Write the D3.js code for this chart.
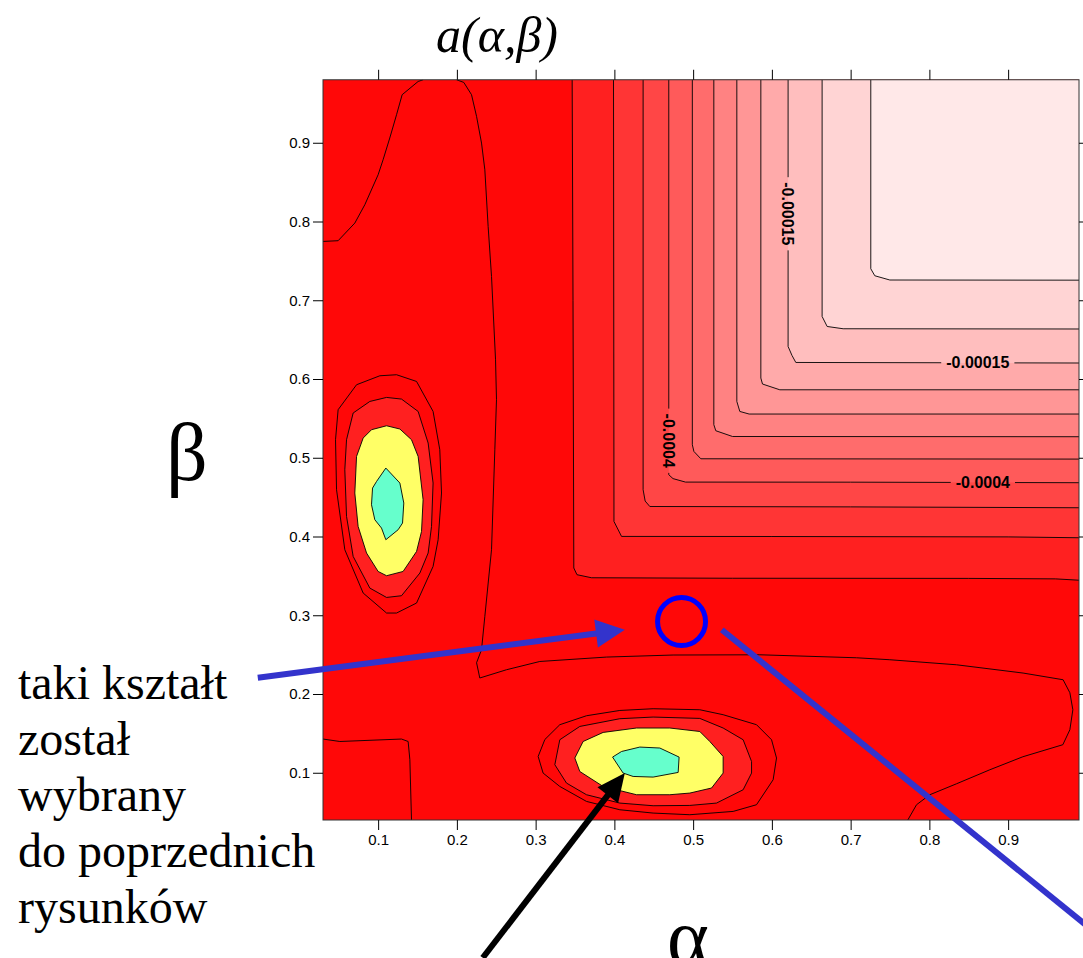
<!DOCTYPE html>
<html>
<head>
<meta charset="utf-8">
<script src="https://cdn.jsdelivr.net/npm/d3@7"></script>
<style>
  body { margin: 0; background: #fff; }
  svg { display: block; }
</style>
</head>
<body>
<svg id="chart" width="1083" height="958"></svg>
<script>
// ---- data: a(alpha, beta) contour map ----
const alphaDomain = [0.03, 0.99];
const betaDomain = [0.04, 0.98];
const tickValues = [0.1, 0.2, 0.3, 0.4, 0.5, 0.6, 0.7, 0.8, 0.9];
const tickLabels = ["0.1", "0.2", "0.3", "0.4", "0.5", "0.6", "0.7", "0.8", "0.9"];

// fill colour of each band, from the deepest value up to the upper-right plateau
const bandColors = ["#ff0808", "#ff2020", "#ff3535", "#ff4646", "#ff5a5a", "#ff6c6c",
                    "#ff8282", "#ff9696", "#ffaaaa", "#ffbebe", "#ffd4d4", "#ffe8e8"];

// L-shaped iso-lines: each runs from the top edge down to a corner and on to the right edge
const lContours = [
  [[0.3464,0.98],[0.3475,0.70],[0.3485,0.360],[0.3525,0.3515],[0.371,0.3476],[0.55,0.3470],[0.85,0.3468],[0.96,0.3462],[0.99,0.3445]],
  [[0.3989,0.98],[0.3995,0.4191],[0.4091,0.4001],[0.60,0.4000],[0.90,0.3995],[0.99,0.3984]],
  [[0.4365,0.98],[0.4365,0.4594],[0.4391,0.445],[0.445,0.4381],[0.70,0.4376],[0.99,0.4365]],
  [[0.4691,0.98],[0.4691,0.4784],[0.4745,0.4735],[0.4903,0.4691],[0.70,0.4690],[0.99,0.4683]],
  [[0.4990,0.98],[0.4990,0.5165],[0.5010,0.508],[0.5098,0.4987],[0.99,0.4983]],
  [[0.5263,0.98],[0.5263,0.5420],[0.5288,0.5343],[0.5500,0.5270],[0.99,0.5267]],
  [[0.5555,0.98],[0.5555,0.5715],[0.5593,0.5588],[0.5711,0.5555],[0.99,0.5555]],
  [[0.5860,0.98],[0.5860,0.6012],[0.5881,0.5936],[0.6101,0.5863],[0.99,0.5863]],
  [[0.6206,0.98],[0.6206,0.6413],[0.6255,0.6300],[0.6304,0.6210],[0.99,0.6203]],
  [[0.6638,0.98],[0.6638,0.6794],[0.6702,0.6667],[0.6905,0.6638],[0.99,0.6635]],
  [[0.7256,0.98],[0.7256,0.7400],[0.7307,0.7311],[0.7498,0.7257],[0.99,0.7255]]
];

// open iso-lines of the deep trough (same fill on both sides)
const troughContour = [
  [0.1996,0.98],[0.2088,0.9766],[0.2186,0.961],[0.225,0.9334],[0.2313,0.8996],[0.2355,0.8657],
  [0.2397,0.7937],[0.244,0.7302],[0.2491,0.6244],[0.2503,0.5737],[0.2482,0.5102],[0.244,0.3832],
  [0.2355,0.2985],[0.2313,0.2562],[0.225,0.2397],[0.2291,0.2203],[0.263,0.2308],[0.3053,0.2413],
  [0.39,0.2469],[0.4746,0.2495],[0.5847,0.2498],[0.7075,0.2460],[0.7498,0.2435],[0.8345,0.2371],
  [0.919,0.2266],[0.9698,0.2181],[0.9784,0.2016],[0.9822,0.18],[0.9784,0.1546],[0.9695,0.1356],
  [0.9187,0.1203],[0.8768,0.1038],[0.8345,0.086],[0.8006,0.0721],[0.7837,0.0594],[0.7726,0.04]
];
const topLeftContour = [
  [0.03,0.7747],[0.0492,0.7756],[0.0704,0.798],[0.0831,0.8213],[0.1,0.8594],[0.1063,0.8784],
  [0.1148,0.906],[0.1234,0.9356],[0.1305,0.961],[0.1508,0.9778],[0.1571,0.98]
];
const bottomLeftContour = [
  [0.03,0.1428],[0.0514,0.1397],[0.1297,0.1428],[0.1381,0.1397],[0.1403,0.1165],[0.1424,0.04]
];

// closed rings of the two minima, outermost first
const leftBasin = [
  [[0.1234,0.6054],[0.1488,0.5969],[0.1698,0.5588],[0.1783,0.5102],[0.1805,0.4552],[0.1762,0.3959],
   [0.1698,0.362],[0.1488,0.3155],[0.1234,0.3028],[0.1107,0.3028],[0.081,0.3282],[0.0577,0.3832],
   [0.0472,0.4594],[0.0459,0.5229],[0.0492,0.561],[0.0726,0.5927],[0.1022,0.6041]],
  [[0.1107,0.5766],[0.1297,0.5745],[0.1508,0.5588],[0.1635,0.5187],[0.1698,0.4679],[0.1678,0.4128],
   [0.1635,0.379],[0.153,0.3536],[0.1297,0.3248],[0.1107,0.3226],[0.0895,0.3345],[0.0683,0.3747],
   [0.0599,0.4255],[0.0577,0.4848],[0.0599,0.5229],[0.0683,0.5568],[0.0895,0.5715]],
  [[0.1107,0.5406],[0.1276,0.5365],[0.1424,0.5229],[0.1508,0.5017],[0.1571,0.4467],[0.1551,0.4064],
   [0.1488,0.381],[0.1317,0.3556],[0.1107,0.3502],[0.1,0.3556],[0.0853,0.379],[0.0746,0.4128],
   [0.0704,0.4552],[0.0726,0.5017],[0.081,0.525],[0.0916,0.5356]],
  [[0.1098,0.4869],[0.1276,0.4679],[0.1326,0.4425],[0.131,0.4171],[0.1254,0.4086],[0.1098,0.3959],
   [0.1043,0.4107],[0.0958,0.4213],[0.0916,0.4403],[0.0929,0.4615],[0.098,0.4699]]
];
const bottomBasin = [
  [[0.3032,0.1207],[0.3117,0.1422],[0.3307,0.161],[0.3646,0.1724],[0.4069,0.1791],[0.4492,0.1813],
   [0.5085,0.18],[0.5381,0.1737],[0.5805,0.161],[0.5996,0.1419],[0.6059,0.1187],[0.6016,0.0911],
   [0.5805,0.0594],[0.5508,0.0509],[0.4958,0.0467],[0.4492,0.0488],[0.4069,0.053],[0.3646,0.0636],
   [0.3307,0.0826],[0.3095,0.0996]],
  [[0.3244,0.1102],[0.3307,0.1419],[0.3561,0.1588],[0.4069,0.1686],[0.4492,0.1707],[0.5085,0.169],
   [0.5381,0.1568],[0.5635,0.1419],[0.5742,0.1143],[0.5742,0.0996],[0.5635,0.0784],[0.5297,0.0615],
   [0.4958,0.0585],[0.4492,0.0581],[0.4069,0.0615],[0.3646,0.0721],[0.3392,0.0869]],
  [[0.3498,0.1187],[0.3603,0.1397],[0.3857,0.1512],[0.4281,0.1568],[0.4704,0.1568],[0.5085,0.1524],
   [0.5212,0.1397],[0.5381,0.1207],[0.5381,0.0996],[0.5234,0.0806],[0.4958,0.0742],[0.4704,0.0721],
   [0.4281,0.0721],[0.3857,0.0826],[0.3561,0.1016]],
  [[0.3977,0.1199],[0.4091,0.127],[0.4323,0.1326],[0.4577,0.1314],[0.4822,0.1199],[0.481,0.1004],
   [0.4492,0.0945],[0.4238,0.0953],[0.4111,0.0996]]
];
const basinColors = ["#ff0808", "#ff2020", "#ffff66", "#66ffcc"];

// contour value labels placed on their iso-lines
const contourLabels = [
  { text: "-0.00015", at: [0.6206, 0.8098], vertical: true },
  { text: "-0.00015", at: [0.8615, 0.6210], vertical: false },
  { text: "-0.0004",  at: [0.4691, 0.5216], vertical: true },
  { text: "-0.0004",  at: [0.8679, 0.4691], vertical: false }
];

// annotation marks, in (alpha, beta) coordinates
const chosenPoint = [0.4853, 0.2921];
const pointerArrow = { from: [-0.0528, 0.2206], to: [0.4133, 0.2816] };
const chosenLeader = { from: [0.5364, 0.2816], to: [1.0166, -0.1077] };
const minimumArrow = { from: [0.2329, -0.1349], to: [0.4133, 0.0996] };
const noteLines = ["taki kształt", "został", "wybrany", "do poprzednich", "rysunków"];

// ---- drawing ----
const svg = d3.select("#chart");
const plotLeft = 323, plotRight = 1079, plotBottom = 820;
const plotTop = plotBottom - (betaDomain[1] - betaDomain[0]) / (alphaDomain[1] - alphaDomain[0]) * (plotRight - plotLeft);

const x = d3.scaleLinear().domain(alphaDomain).range([plotLeft, plotRight]);
const y = d3.scaleLinear().domain(betaDomain).range([plotBottom, plotTop]);

const openLine = d3.line().x(d => x(d[0])).y(d => y(d[1]));
const closedLine = d3.line().x(d => x(d[0])).y(d => y(d[1])).curve(d3.curveLinearClosed);

const defs = svg.append("defs");
defs.append("clipPath").attr("id", "plotClip")
  .append("rect").attr("x", plotLeft).attr("y", plotTop)
  .attr("width", plotRight - plotLeft).attr("height", plotBottom - plotTop);

const plot = svg.append("g").attr("clip-path", "url(#plotClip)");

// base band
plot.append("rect")
  .attr("x", plotLeft).attr("y", plotTop)
  .attr("width", plotRight - plotLeft).attr("height", plotBottom - plotTop)
  .attr("fill", bandColors[0]);

// nested upper-right bands, closed through the top-right corner
lContours.forEach((c, i) => {
  plot.append("path")
    .attr("d", closedLine(c.concat([[alphaDomain[1], betaDomain[1]]])))
    .attr("fill", bandColors[i + 1]);
});

// basins
[leftBasin, bottomBasin].forEach(basin => {
  basin.forEach((ring, i) => {
    plot.append("path").attr("d", closedLine(ring)).attr("fill", basinColors[i]);
  });
});

// contour labels first measured, so the lines can be broken around them
const labelGroup = svg.append("g")
  .attr("font-family", "'Liberation Sans', Arial, sans-serif")
  .attr("font-size", 16)
  .attr("font-weight", "bold")
  .attr("fill", "#000");

const gapMask = defs.append("mask").attr("id", "labelGaps").attr("maskUnits", "userSpaceOnUse")
  .attr("x", 0).attr("y", 0).attr("width", 1083).attr("height", 958);
gapMask.append("rect").attr("x", 0).attr("y", 0).attr("width", 1083).attr("height", 958).attr("fill", "#fff");

contourLabels.forEach(lab => {
  const cx = x(lab.at[0]), cy = y(lab.at[1]);
  const t = labelGroup.append("text")
    .attr("x", 0).attr("y", 0)
    .attr("text-anchor", "middle")
    .attr("dy", "0.36em")
    .attr("transform", `translate(${cx},${cy})` + (lab.vertical ? " rotate(90)" : ""))
    .text(lab.text);
  const w = t.node().getComputedTextLength() + 10;
  const h = 14;
  const gw = lab.vertical ? h : w, gh = lab.vertical ? w : h;
  gapMask.append("rect")
    .attr("x", cx - gw / 2).attr("y", cy - gh / 2)
    .attr("width", gw).attr("height", gh).attr("fill", "#000");
});

// iso-lines
const lines = plot.append("g")
  .attr("mask", "url(#labelGaps)")
  .attr("fill", "none").attr("stroke", "#000").attr("stroke-width", 0.9)
  .attr("stroke-linejoin", "round");
lContours.forEach(c => lines.append("path").attr("d", openLine(c)));
[troughContour, topLeftContour, bottomLeftContour].forEach(c => lines.append("path").attr("d", openLine(c)));
[leftBasin, bottomBasin].forEach(basin => basin.forEach(ring => lines.append("path").attr("d", closedLine(ring))));

labelGroup.raise();

// frame
svg.append("rect")
  .attr("x", plotLeft).attr("y", plotTop)
  .attr("width", plotRight - plotLeft).attr("height", plotBottom - plotTop)
  .attr("fill", "none").attr("stroke", "#333").attr("stroke-width", 1);

// axes: labelled on the left and bottom, bare ticks on top and right
const fmt = (d, i) => tickLabels[i];
const axisFont = g => g.attr("font-family", "'Liberation Sans', Arial, sans-serif").attr("font-size", 15);

svg.append("g").attr("transform", `translate(0,${plotBottom})`)
  .call(d3.axisBottom(x).tickValues(tickValues).tickFormat(fmt).tickSize(10).tickPadding(4))
  .call(axisFont).call(g => g.select(".domain").remove());
svg.append("g").attr("transform", `translate(${plotLeft},0)`)
  .call(d3.axisLeft(y).tickValues(tickValues).tickFormat(fmt).tickSize(10).tickPadding(3))
  .call(axisFont).call(g => g.select(".domain").remove());
svg.append("g").attr("transform", `translate(0,${plotTop})`)
  .call(d3.axisTop(x).tickValues(tickValues).tickFormat("").tickSize(10))
  .call(g => g.select(".domain").remove());
svg.append("g").attr("transform", `translate(${plotRight},0)`)
  .call(d3.axisRight(y).tickValues(tickValues).tickFormat("").tickSize(10))
  .call(g => g.select(".domain").remove());

// titles
svg.append("text")
  .attr("x", 497).attr("y", 52)
  .attr("text-anchor", "middle")
  .attr("font-family", "'Liberation Serif', 'Times New Roman', serif")
  .attr("font-style", "italic")
  .attr("font-size", 50)
  .text("a(α,β)");
svg.append("text")
  .attr("x", 166).attr("y", 480)
  .attr("font-family", "'Liberation Serif', 'Times New Roman', serif")
  .attr("font-size", 82)
  .text("β");
svg.append("text")
  .attr("x", 688).attr("y", 964)
  .attr("text-anchor", "middle")
  .attr("font-family", "'Liberation Serif', 'Times New Roman', serif")
  .attr("font-size", 80)
  .text("α");

// side note
const note = svg.append("text")
  .attr("font-family", "'Liberation Serif', 'Times New Roman', serif")
  .attr("font-size", 48)
  .attr("fill", "#000");
noteLines.forEach((s, i) => {
  note.append("tspan").attr("x", 18).attr("y", 699 + i * 56).text(s);
});

// arrows
function arrow(a, color, width, headLen, headHalf) {
  const x0 = x(a.from[0]), y0 = y(a.from[1]);
  const x1 = x(a.to[0]), y1 = y(a.to[1]);
  const len = Math.hypot(x1 - x0, y1 - y0);
  const ux = (x1 - x0) / len, uy = (y1 - y0) / len;
  const bx = x1 - ux * headLen, by = y1 - uy * headLen;
  svg.append("line")
    .attr("x1", x0).attr("y1", y0).attr("x2", bx + ux * 2).attr("y2", by + uy * 2)
    .attr("stroke", color).attr("stroke-width", width);
  svg.append("path")
    .attr("d", `M${x1},${y1}L${bx - uy * headHalf},${by + ux * headHalf}L${bx + uy * headHalf},${by - ux * headHalf}Z`)
    .attr("fill", color);
}

arrow(pointerArrow, "#3333cc", 6, 29, 14);
arrow(minimumArrow, "#000000", 6, 28, 13);

svg.append("line")
  .attr("x1", x(chosenLeader.from[0])).attr("y1", y(chosenLeader.from[1]))
  .attr("x2", x(chosenLeader.to[0])).attr("y2", y(chosenLeader.to[1]))
  .attr("stroke", "#3333cc").attr("stroke-width", 6);

svg.append("circle")
  .attr("cx", x(chosenPoint[0])).attr("cy", y(chosenPoint[1]))
  .attr("r", 24)
  .attr("fill", "none").attr("stroke", "#0000ff").attr("stroke-width", 5);
</script>
</body>
</html>
